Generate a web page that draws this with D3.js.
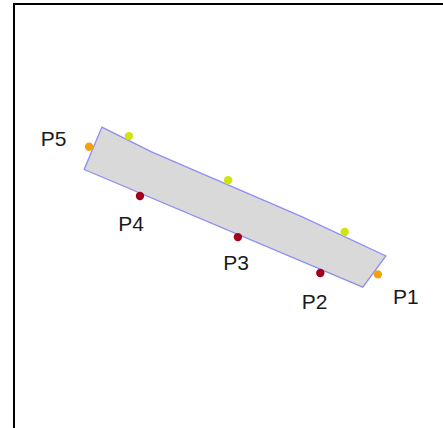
<!DOCTYPE html>
<html>
<head>
<meta charset="utf-8">
<script src="https://cdn.jsdelivr.net/npm/d3@7"></script>
<style>
  body { margin: 0; background: #fff; }
  svg { display: block; }
</style>
</head>
<body>
<svg></svg>
<script>
// plan coordinates, 0-100 on each axis
var outline = [[23.0, 29.7], [34.2, 35.5], [68.1, 50.6], [87.1, 59.8], [81.9, 67.1], [19.0, 39.6]];

var endPoints = [[20.1, 34.3], [85.3, 64.1]];
var topPoints = [[29.1, 31.8], [51.5, 42.1], [77.8, 54.2]];
var bottomPoints = [[31.6, 45.8], [53.7, 55.4], [72.3, 63.8]];

var labelNames = ["P1", "P2", "P3", "P4", "P5"];
var labelX = [91.6, 71.0, 53.3, 29.6, 12.1];
var labelY = [71.1, 72.1, 63.2, 53.9, 34.1];

var screen = {width: 443, height: 428}

var svg = d3.select("svg")
    .attr("width", screen.width)
    .attr("height", screen.height)

var xScale = d3.scaleLinear()
    .domain([0, 100])
    .range([0, screen.width])
var yScale = d3.scaleLinear()
    .domain([0, 100])
    .range([0, screen.height])

// frame
svg.append("rect")
    .attr("x", 14)
    .attr("y", 4)
    .attr("width", screen.width + 20)
    .attr("height", screen.height + 20)
    .attr("fill", "none")
    .attr("stroke", "black")
    .attr("stroke-width", 2)

var lineGenerator = d3.line()
    .x(function(d){return xScale(d[0])})
    .y(function(d){return yScale(d[1])})

svg.append("path")
    .datum(outline)
    .attr("d", function(d){return lineGenerator(d) + "Z"})
    .attr("fill", "#d9d9d9")
    .attr("stroke", "#8e8ef2")
    .attr("stroke-width", 1.3)

var drawDots = function(data, colour)
{
    svg.append("g")
        .selectAll("circle")
        .data(data)
        .enter()
        .append("circle")
        .attr("cx", function(d){return xScale(d[0])})
        .attr("cy", function(d){return yScale(d[1])})
        .attr("r", 4.2)
        .attr("fill", colour)
}

drawDots(endPoints, "#f4a10c")
drawDots(topPoints, "#d2e40e")
drawDots(bottomPoints, "#a3001e")

svg.append("g")
    .selectAll("text")
    .data(labelNames)
    .enter()
    .append("text")
    .attr("x", function(d, i){return xScale(labelX[i])})
    .attr("y", function(d, i){return yScale(labelY[i])})
    .attr("text-anchor", "middle")
    .attr("font-family", "Liberation Sans, Arial, sans-serif")
    .attr("font-size", 21)
    .attr("fill", "#1a1a1a")
    .text(function(d){return d})
</script>
</body>
</html>
